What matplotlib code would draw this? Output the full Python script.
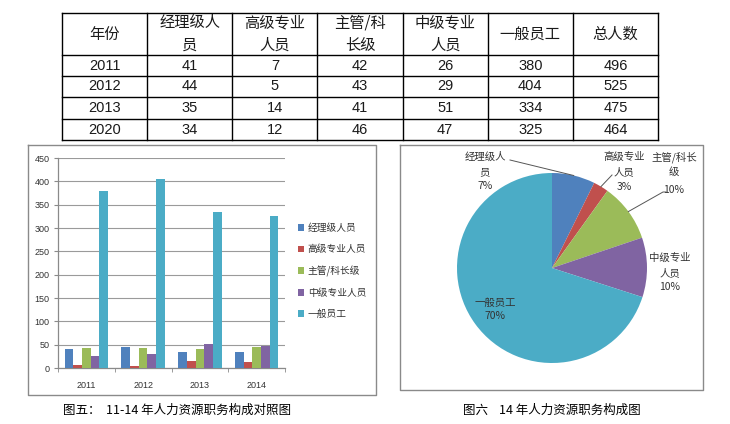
import numpy as np
import matplotlib
matplotlib.use("Agg")
import matplotlib.pyplot as plt

plt.rcParams['font.family'] = ['Noto Sans CJK SC', 'DejaVu Sans']

# ---------------- data ----------------
table_header = ["年份", "经理级人\n员", "高级专业\n人员", "主管/科\n长级", "中级专业\n人员", "一般员工", "总人数"]
table_years = ["2011", "2012", "2013", "2020"]
manager = [41, 44, 35, 34]
senior_pro = [7, 5, 14, 12]
supervisor = [42, 43, 41, 46]
mid_pro = [26, 29, 51, 47]
general = [380, 404, 334, 325]
total = [496, 525, 475, 464]

bar_years = ["2011", "2012", "2013", "2014"]
series_names = ["经理级人员", "高级专业人员", "主管/科长级", "中级专业人员", "一般员工"]
series_values = [manager, senior_pro, supervisor, mid_pro, general]
y_ticks = [0, 50, 100, 150, 200, 250, 300, 350, 400, 450]

pie_values = [34, 12, 46, 47, 325]
pie_labels = ["经理级人\n员", "高级专业\n人员", "主管/科长\n级", "中级专业\n人员", "一般员工"]

caption_left = "图五：  11-14 年人力资源职务构成对照图"
caption_right = "图六    14 年人力资源职务构成图"

colors = ["#4F81BD", "#C0504D", "#9BBB59", "#8064A2", "#4BACC6"]

# ---------------- figure ----------------
W, H = 730, 424
fig = plt.figure(figsize=(W / 100, H / 100), dpi=100)
fig.patch.set_facecolor("white")


def box(l, t, r, b):
    return [l / W, 1 - b / H, (r - l) / W, (b - t) / H]


def pixel_axes():
    a = fig.add_axes([0, 0, 1, 1])
    a.set_xlim(0, W)
    a.set_ylim(H, 0)
    a.axis("off")
    a.patch.set_alpha(0)
    return a


bg = pixel_axes()

# ---------------- table ----------------
col_edges = np.linspace(62, 658, 8)
row_edges = [13, 55, 76, 97, 119, 140]
for xx in col_edges:
    bg.plot([xx, xx], [row_edges[0], row_edges[-1]], color="black", lw=1.0)
for yy in row_edges:
    bg.plot([col_edges[0], col_edges[-1]], [yy, yy], color="black", lw=1.0)

tfs = 11
for j, lab in enumerate(table_header):
    cxx = (col_edges[j] + col_edges[j + 1]) / 2
    lines = lab.split("\n")
    ys = [34] if len(lines) == 1 else [23, 45]
    for ln, yy in zip(lines, ys):
        bg.text(cxx, yy, ln, ha="center", va="center", fontsize=tfs, color="#1a1a1a")

rows = [table_years, manager, senior_pro, supervisor, mid_pro, general, total]
for i in range(4):
    cyy = (row_edges[i + 1] + row_edges[i + 2]) / 2
    for j, col in enumerate(rows):
        cxx = (col_edges[j] + col_edges[j + 1]) / 2
        bg.text(cxx, cyy, str(col[i]), ha="center", va="center", fontsize=tfs - 0.5,
                color="#1a1a1a", family=["Liberation Sans", "DejaVu Sans"])

# ---------------- boxes ----------------
for (l, t, r, b) in [(28, 145, 376, 395), (400, 145, 703, 390)]:
    bg.plot([l, r, r, l, l], [t, t, b, b, t], color="#8a8a8a", lw=1.0)

# ---------------- bar chart ----------------
ax = fig.add_axes(box(58, 158, 285, 368))
x = np.arange(len(bar_years))
w = 0.153
for i, (name, vals) in enumerate(zip(series_names, series_values)):
    ax.bar(x + (i - 2) * w, vals, width=w, color=colors[i], label=name, zorder=3)
ax.set_xlim(-0.5, len(bar_years) - 0.5)
ax.set_ylim(0, 450)
ax.set_yticks(y_ticks)
ax.set_yticklabels([str(v) for v in y_ticks], fontsize=6.5, color="#333333",
                   family=["Liberation Sans", "DejaVu Sans"])
ax.set_xticks(x)
ax.set_xticklabels(bar_years, fontsize=6.5, color="#333333",
                   family=["Liberation Sans", "DejaVu Sans"])
ax.tick_params(axis="x", which="major", length=0, pad=9)
ax.set_xticks(np.arange(-0.5, len(bar_years)), minor=True)
ax.tick_params(axis="x", which="minor", length=3, color="#8a8a8a", direction="out")
ax.tick_params(axis="y", length=3, color="#8a8a8a", direction="out", pad=3)
ax.yaxis.grid(True, color="#9a9a9a", lw=0.8, zorder=0)
for s in ["top", "right"]:
    ax.spines[s].set_visible(False)
for s in ["left", "bottom"]:
    ax.spines[s].set_color("#8a8a8a")
    ax.spines[s].set_linewidth(0.9)
ax.set_facecolor("white")

leg = ax.legend(loc="center left", bbox_to_anchor=(298 / W, 1 - 271 / H),
                bbox_transform=fig.transFigure, frameon=False, fontsize=7,
                handlelength=0.65, handleheight=0.65, handletextpad=0.35,
                labelspacing=1.15, borderpad=0, borderaxespad=0)
for t in leg.get_texts():
    t.set_color("#333333")

# ---------------- pie chart ----------------
cx, cy, R = 552, 268, 95
pax = fig.add_axes(box(cx - R, cy - R, cx + R, cy + R))
pax.pie(pie_values, colors=colors, startangle=90, counterclock=False,
        radius=1, wedgeprops=dict(linewidth=0))
pax.set_xlim(-1, 1)
pax.set_ylim(-1, 1)
pax.set_aspect("equal")
pax.axis("off")

# overlay for pie labels (on top of the pie)
ov = pixel_axes()

tot = sum(pie_values)
fracs = [v / tot for v in pie_values]
cum = np.cumsum([0] + fracs)
mids = [90 - 360 * (cum[k] + fracs[k] / 2) for k in range(len(pie_values))]
edge_pts = [(cx + R * np.cos(np.radians(a)), cy - R * np.sin(np.radians(a))) for a in mids]

# label layout (pixel positions): x center, line y positions, leader start
label_layout = [
    (485, [157, 172, 186], (510, 160)),
    (624, [157, 172, 187], (612, 175)),
    (674, [157, 172, 190], (663, 192)),
    (670, [258, 273, 287], None),
    (495, [303, 316], None),
]
pfs = 7.5
for k, (lab, (lx, lys, lead)) in enumerate(zip(pie_labels, label_layout)):
    pct = f"{round(fracs[k] * 100)}%"
    lines = lab.split("\n") + [pct]
    for ln, yy in zip(lines, lys):
        ov.text(lx, yy, ln, ha="center", va="center", fontsize=pfs, color="#333333")
    if lead is not None:
        ex, ey = edge_pts[k]
        if k == 2:
            ov.plot([lead[0] + 3, lead[0], ex], [lead[1], lead[1], ey], color="#555555", lw=0.7)
        else:
            ov.plot([lead[0], ex], [lead[1], ey], color="#555555", lw=0.7)

# ---------------- captions ----------------
ov.text(63, 410, caption_left, ha="left", va="center", fontsize=9, color="black")
ov.text(463, 410, caption_right, ha="left", va="center", fontsize=9, color="black")

fig.savefig("out.png", dpi=100, facecolor="white")
